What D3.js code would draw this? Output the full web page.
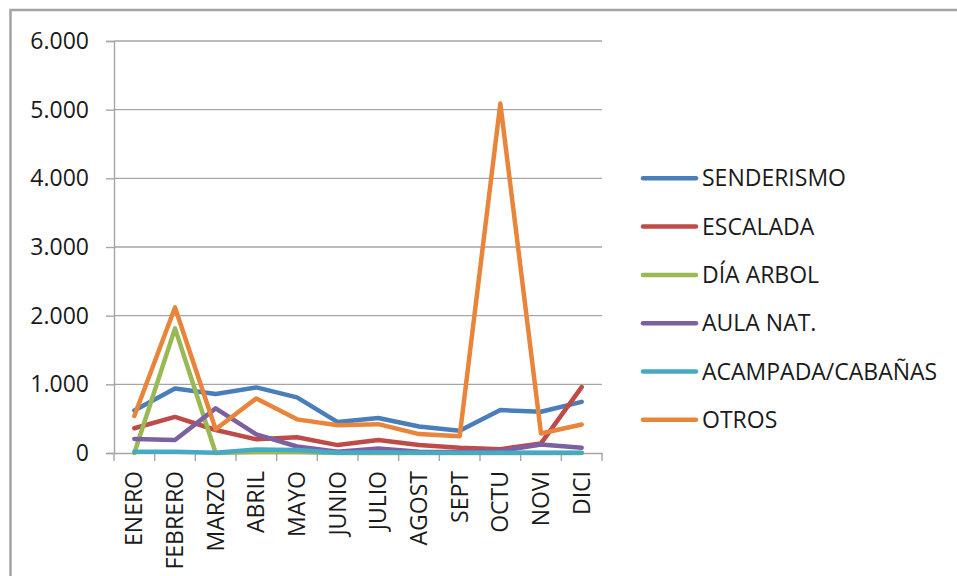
<!DOCTYPE html>
<html>
<head>
<meta charset="utf-8">
<script src="https://cdn.jsdelivr.net/npm/d3@7"></script>
<style>
  body { margin: 0; background: #fff; }
  svg { display: block; }
  text { font-family: "Open Sans", "DejaVu Sans", sans-serif; fill: #1a1a1a; }
</style>
</head>
<body>
<svg id="chart" width="957" height="576"></svg>
<script>
const months = ["ENERO","FEBRERO","MARZO","ABRIL","MAYO","JUNIO","JULIO","AGOST","SEPT","OCTU","NOVI","DICI"];
const seriesNames = ["SENDERISMO","ESCALADA","DÍA ARBOL","AULA NAT.","ACAMPADA/CABAÑAS","OTROS"];
const senderismo = [620, 940, 860, 955, 810, 450, 510, 385, 325, 625, 600, 745];
const escalada   = [360, 525, 335, 200, 230, 115, 190, 115, 75, 55, 140, 960];
const diaArbol   = [0, 1815, 0, 15, 15, 0, 0, 0, 0, 0, 0, 0];
const aulaNat    = [205, 190, 650, 270, 95, 20, 65, 20, 15, 30, 125, 75];
const acampada   = [20, 20, 5, 50, 45, 5, 10, 5, 5, 5, 5, 5];
const otros      = [540, 2120, 345, 795, 490, 405, 420, 275, 245, 5090, 285, 415];
const yTicks = [0, 1000, 2000, 3000, 4000, 5000, 6000];
const colors = ["#4a7ebb", "#be4b48", "#98b954", "#7d60a0", "#46aac5", "#e8853b"];

const allSeries = [senderismo, escalada, diaArbol, aulaNat, acampada, otros];

const svg = d3.select("#chart");

// outer border
svg.append("rect")
  .attr("x", 10.5).attr("y", 10)
  .attr("width", 1000).attr("height", 1000)
  .attr("fill", "none").attr("stroke", "#a3a3a3").attr("stroke-width", 2.5);

const pLeft = 114, pRight = 602, pTop = 41, pBottom = 453;
const x = d3.scaleBand().domain(months).range([pLeft, pRight]);
const y = d3.scaleLinear().domain([0, 6000]).range([pBottom, pTop]);

const loc = d3.formatLocale({decimal: ",", thousands: ".", grouping: [3], currency: ["", ""]});
const fmt = loc.format(",");

// gridlines
svg.append("g").selectAll("line").data(yTicks.filter(d => d > 0)).join("line")
  .attr("x1", pLeft).attr("x2", pRight)
  .attr("y1", d => y(d)).attr("y2", d => y(d))
  .attr("stroke", "#a6a6a6").attr("stroke-width", 1.4);

// y axis
const yAxis = svg.append("g").attr("transform", `translate(${pLeft},0)`)
  .call(d3.axisLeft(y).tickValues(yTicks).tickFormat(fmt).tickSize(8).tickPadding(17));
yAxis.select(".domain").attr("stroke", "#a6a6a6").attr("stroke-width", 1.4);
yAxis.selectAll(".tick line").attr("stroke", "#a6a6a6").attr("stroke-width", 1.4);
yAxis.selectAll("text").attr("font-size", 23).attr("fill", "#1a1a1a")
  .style("font-family", "'Open Sans', sans-serif");

// x axis
const xAxis = svg.append("g").attr("transform", `translate(0,${pBottom})`)
  .call(d3.axisBottom(x).tickSize(0).tickFormat(""));
xAxis.select(".domain").attr("stroke", "#a6a6a6").attr("stroke-width", 1.4);
xAxis.selectAll(".tick").remove();
const edges = months.map(m => x(m)).concat([pRight]);
xAxis.selectAll("line.edge").data(edges).join("line").attr("class", "edge")
  .attr("x1", d => d).attr("x2", d => d).attr("y1", 0).attr("y2", 8)
  .attr("stroke", "#a6a6a6").attr("stroke-width", 1.4);
xAxis.selectAll("text.lab").data(months).join("text").attr("class", "lab")
  .attr("transform", d => `translate(${x(d) + x.bandwidth() / 2},18) rotate(-90)`)
  .attr("text-anchor", "end").attr("dy", "0.35em")
  .attr("font-size", 23)
  .text(d => d);

// lines
const line = d3.line()
  .x((d, i) => x(months[i]) + x.bandwidth() / 2)
  .y(d => y(d));

svg.append("g").selectAll("path").data(allSeries).join("path")
  .attr("d", d => line(d))
  .attr("fill", "none")
  .attr("stroke", (d, i) => colors[i])
  .attr("stroke-width", 4.5)
  .attr("stroke-linejoin", "round")
  .attr("stroke-linecap", "round");

// legend
const legend = svg.append("g");
const rows = legend.selectAll("g").data(seriesNames).join("g")
  .attr("transform", (d, i) => `translate(643,${178.3 + i * 48.3})`);
rows.append("line").attr("x1", 0).attr("x2", 53).attr("y1", 0).attr("y2", 0)
  .attr("stroke", (d, i) => colors[i]).attr("stroke-width", 4.5).attr("stroke-linecap", "round");
rows.append("text").attr("x", 59).attr("dy", "0.35em").attr("font-size", 23).text(d => d);
</script>
</body>
</html>
